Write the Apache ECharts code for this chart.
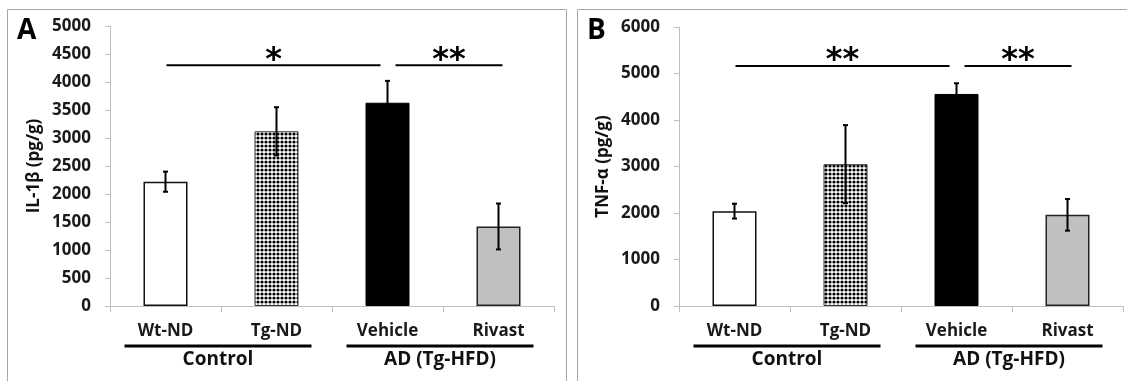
<!DOCTYPE html>
<html>
<head>
<meta charset="utf-8">
<script src="https://cdn.jsdelivr.net/npm/echarts@6/dist/echarts.min.js"></script>
<style>
  html, body { margin: 0; padding: 0; background: #fff; }
  #main { width: 1127px; height: 381px; }
</style>
</head>
<body>
<div id="main"></div>
<script>
// data
var categories = ['Wt-ND', 'Tg-ND', 'Vehicle', 'Rivast'];
var il1bMean = [2220, 3120, 3630, 1420];
var il1bErr = [180, 430, 390, 410];
var tnfMean = [2040, 3050, 4560, 1960];
var tnfErr = [160, 840, 230, 340];
// significance brackets: [from, to, stars, value level]
var sigA = [[0, 2, '*', 4300], [2, 3, '**', 4300]];
var sigB = [[0, 2, '**', 5160], [2, 3, '**', 5160]];
var groups = [[0, 1, 'Control'], [2, 3, 'AD (Tg-HFD)']];

var FONT = '"Open Sans", "DejaVu Sans", sans-serif';

// checkered dot pattern for Tg-ND
var pat = document.createElement('canvas');
pat.width = 4; pat.height = 4;
var pctx = pat.getContext('2d');
pctx.fillStyle = '#fff';
pctx.fillRect(0, 0, 4, 4);
pctx.fillStyle = '#000';
pctx.beginPath();
pctx.arc(2, 2, 1.6, 0, Math.PI * 2);
pctx.fill();

var barStyles = [
  { color: '#ffffff', borderColor: '#111', borderWidth: 1.5 },
  { color: { image: pat, repeat: 'repeat' }, borderColor: '#333', borderWidth: 1 },
  { color: '#000000', borderColor: '#000', borderWidth: 1 },
  { color: '#c0c0c0', borderColor: '#222', borderWidth: 1.5 }
];

function barData(vals) {
  return vals.map(function (v, i) {
    return { value: v, itemStyle: barStyles[i] };
  });
}

function errData(mean, err) {
  return mean.map(function (v, i) { return [i, v - err[i], v + err[i]]; });
}

function renderErr(params, api) {
  var lo = api.coord([api.value(0), api.value(1)]);
  var hi = api.coord([api.value(0), api.value(2)]);
  var st = { stroke: '#000', lineWidth: 2 };
  return {
    type: 'group',
    children: [
      { type: 'line', shape: { x1: lo[0], y1: lo[1], x2: hi[0], y2: hi[1] }, style: st },
      { type: 'line', shape: { x1: lo[0] - 2.5, y1: lo[1], x2: lo[0] + 2.5, y2: lo[1] }, style: st },
      { type: 'line', shape: { x1: hi[0] - 2.5, y1: hi[1], x2: hi[0] + 2.5, y2: hi[1] }, style: st }
    ]
  };
}

function renderSig(params, api) {
  var i0 = api.value(0), i1 = api.value(1);
  var a = api.coord([i0, api.value(3)]);
  var b = api.coord([i1, api.value(3)]);
  var x1 = a[0] + (i0 === 0 ? 1 : 8);
  var x2 = b[0] + (i1 === 3 ? 4 : -7);
  var y = a[1];
  return {
    type: 'group',
    children: [
      { type: 'line', shape: { x1: x1, y1: y, x2: x2, y2: y }, style: { stroke: '#000', lineWidth: 2 } },
      { type: 'text', style: {
          text: api.value(2), x: (x1 + x2) / 2, y: y + 11,
          textAlign: 'center', textVerticalAlign: 'bottom',
          font: 'bold 32px "DejaVu Sans"', fill: '#000'
      } }
    ]
  };
}

function renderGroup(params, api) {
  var a = api.coord([api.value(0), 0]);
  var b = api.coord([api.value(1), 0]);
  var x1 = a[0] - 41, x2 = b[0] + 35;
  var y = a[1] + 40;
  return {
    type: 'group',
    children: [
      { type: 'line', shape: { x1: x1, y1: y, x2: x2, y2: y }, style: { stroke: '#000', lineWidth: 3 } },
      { type: 'text', style: {
          text: api.value(2), x: (x1 + x2) / 2, y: y + 14,
          textAlign: 'center', textVerticalAlign: 'middle',
          font: 'bold 19px ' + FONT, fill: '#111'
      } }
    ]
  };
}

function xAxis(gi) {
  return {
    type: 'category', gridIndex: gi, data: categories,
    axisLine: { lineStyle: { color: '#bfbfbf', width: 1 } },
    axisTick: { show: true, length: 6, lineStyle: { color: '#bfbfbf' } },
    axisLabel: { color: '#1a1a1a', fontFamily: FONT, fontWeight: 'bold', fontSize: 17, margin: 17 },
    splitLine: { show: false }
  };
}

function yAxis(gi, max, interval, name) {
  return {
    type: 'value', gridIndex: gi, min: 0, max: max, interval: interval,
    name: name, nameLocation: 'middle', nameGap: 67, nameRotate: 90,
    nameTextStyle: { color: '#111', fontFamily: FONT, fontSize: 17, fontWeight: 'bold' },
    axisLine: { show: true, lineStyle: { color: '#bfbfbf', width: 1 } },
    axisTick: { show: true, length: 5, lineStyle: { color: '#bfbfbf' } },
    axisLabel: {
      color: '#1a1a1a', fontFamily: FONT, fontWeight: 'bold', fontSize: 17, margin: 19,
      formatter: function (v) { return String(v); }
    },
    splitLine: { show: false }
  };
}

var chart = echarts.init(document.getElementById('main'), null, { renderer: 'canvas' });

var option = {
  animation: false,
  backgroundColor: '#fff',
  grid: [
    { left: 110, top: 26, width: 444, height: 280 },
    { left: 679, top: 27, width: 444, height: 279 }
  ],
  xAxis: [xAxis(0), xAxis(1)],
  yAxis: [
    yAxis(0, 5000, 500, 'IL-1β (pg/g)'),
    yAxis(1, 6000, 1000, 'TNF-α (pg/g)')
  ],
  graphic: [
    { type: 'rect', shape: { x: 7.5, y: 9.5, width: 559, height: 400 }, style: { fill: 'none', stroke: '#a6a6a6', lineWidth: 1 }, z: -1 },
    { type: 'rect', shape: { x: 577.5, y: 9.5, width: 560, height: 400 }, style: { fill: 'none', stroke: '#a6a6a6', lineWidth: 1 }, z: -1 },
    { type: 'text', left: 17, top: 17, style: { text: 'A', font: 'bold 28px ' + FONT, fill: '#000' } },
    { type: 'text', left: 587, top: 17, style: { text: 'B', font: 'bold 28px ' + FONT, fill: '#000' } }
  ],
  series: [
    { type: 'bar', xAxisIndex: 0, yAxisIndex: 0, barWidth: 44, data: barData(il1bMean) },
    { type: 'custom', xAxisIndex: 0, yAxisIndex: 0, renderItem: renderErr, data: errData(il1bMean, il1bErr), z: 5 },
    { type: 'custom', xAxisIndex: 0, yAxisIndex: 0, renderItem: renderSig, data: sigA, clip: false, z: 5 },
    { type: 'custom', xAxisIndex: 0, yAxisIndex: 0, renderItem: renderGroup, data: groups, clip: false, z: 5 },
    { type: 'bar', xAxisIndex: 1, yAxisIndex: 1, barWidth: 44, data: barData(tnfMean) },
    { type: 'custom', xAxisIndex: 1, yAxisIndex: 1, renderItem: renderErr, data: errData(tnfMean, tnfErr), z: 5 },
    { type: 'custom', xAxisIndex: 1, yAxisIndex: 1, renderItem: renderSig, data: sigB, clip: false, z: 5 },
    { type: 'custom', xAxisIndex: 1, yAxisIndex: 1, renderItem: renderGroup, data: groups, clip: false, z: 5 }
  ]
};

chart.setOption(option);
window.addEventListener('resize', function () {
  chart.resize();
});
</script>
</body>
</html>
